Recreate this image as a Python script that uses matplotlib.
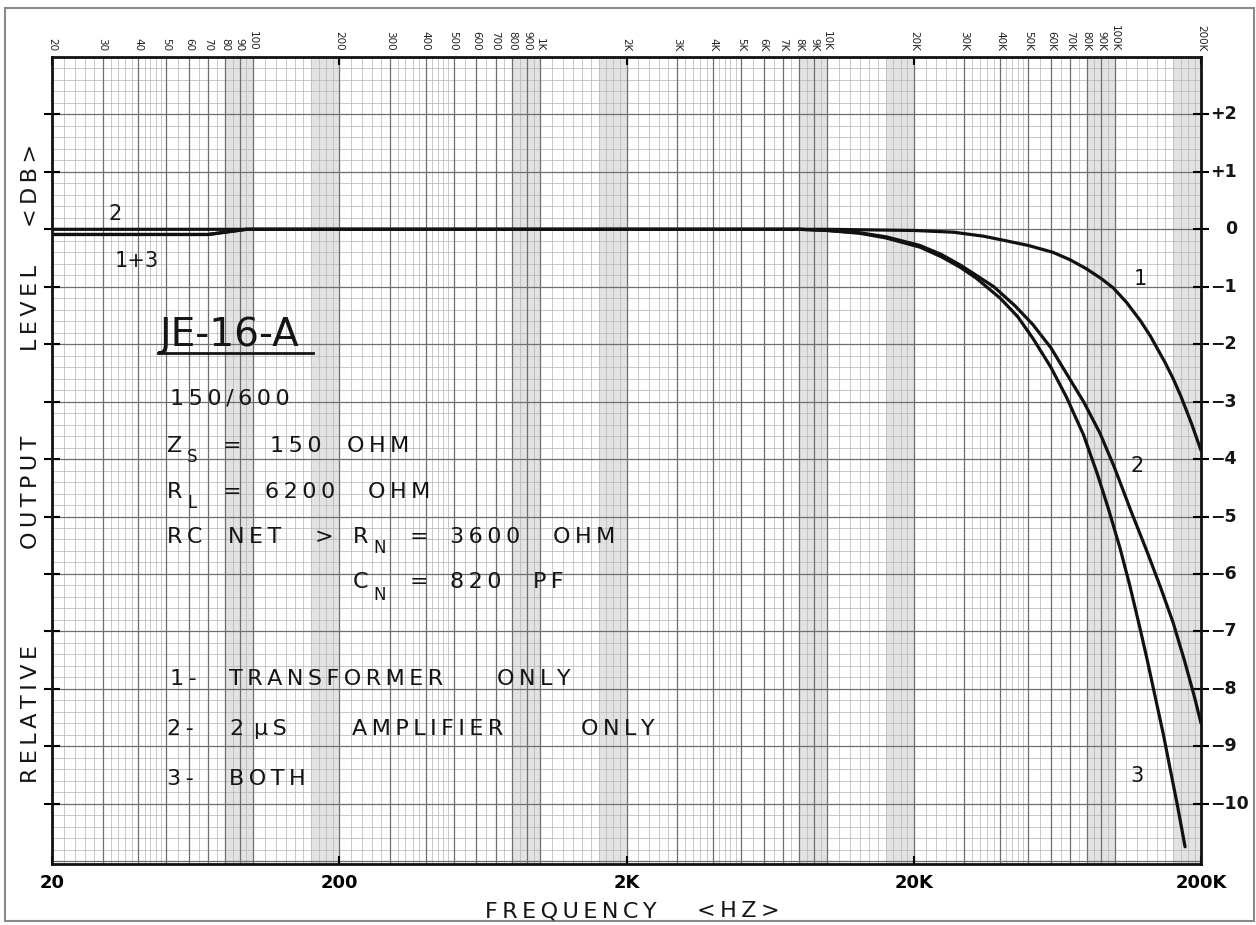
# frequency response chart, log paper style (JE-16-A transformer)
import numpy as np
import matplotlib.pyplot as plt
from matplotlib import transforms
from matplotlib.patches import Rectangle
from matplotlib.lines import Line2D
from matplotlib.ticker import NullLocator

# curve 1 - transformer only (Hz, dB)
freq_1 = [20, 70, 95, 1000, 10000, 20000, 27500, 35000, 41000, 50000, 61000,
          70000, 80000, 90000, 99000, 110000, 123000, 133000, 150000, 160000,
          170000, 185000, 200000]
db_1 = [-0.09, -0.09, 0.0, 0.0, 0.0, -0.02, -0.05, -0.12, -0.19, -0.28, -0.40,
        -0.53, -0.69, -0.86, -1.02, -1.27, -1.59, -1.85, -2.32, -2.60,
        -2.90, -3.37, -3.85]

# curve 2 - 2 uS amplifier only
freq_2 = [20, 8000, 10000, 13000, 16000, 21000, 25000, 29000, 33000, 38000,
          45000, 52000, 60000, 68000, 78000, 89000, 100000, 115000, 130000,
          145000, 160000, 175000, 190000, 200000]
db_2 = [0.0, 0.0, -0.02, -0.06, -0.13, -0.28, -0.44, -0.62, -0.80, -1.0,
        -1.33, -1.66, -2.06, -2.51, -3.0, -3.55, -4.15, -4.95, -5.62,
        -6.25, -6.85, -7.5, -8.15, -8.6]

# curve 3 - both
freq_3 = [20, 70, 95, 8000, 10000, 13000, 16000, 21000, 25000, 29000, 33000,
          40000, 46000, 52000, 60000, 68000, 78000, 87000, 95000, 104500,
          113000, 122700, 130000, 138000, 148000, 156000, 166000, 176000]
db_3 = [-0.09, -0.09, 0.0, 0.0, -0.02, -0.07, -0.15, -0.31, -0.48, -0.66, -0.85,
        -1.2, -1.52, -1.9, -2.4, -2.92, -3.58, -4.25, -4.85, -5.55,
        -6.2, -6.95, -7.5, -8.1, -8.8, -9.38, -10.06, -10.75]

top_ticks = [20, 30, 40, 50, 60, 70, 80, 90, 100, 200, 300, 400, 500, 600, 700,
             800, 900, 1000, 2000, 3000, 4000, 5000, 6000, 7000, 8000, 9000,
             10000, 20000, 30000, 40000, 50000, 60000, 70000, 80000, 90000,
             100000, 200000]
top_labels = ['20', '30', '40', '50', '60', '70', '80', '90', '100', '200', '300',
              '400', '500', '600', '700', '800', '900', '1K', '2K', '3K', '4K',
              '5K', '6K', '7K', '8K', '9K', '10K', '20K', '30K', '40K', '50K',
              '60K', '70K', '80K', '90K', '100K', '200K']
bottom_ticks = [20, 200, 2000, 20000, 200000]
bottom_labels = ['20', '200', '2K', '20K', '200K']
db_ticks = list(range(-10, 3))

W, H = 1256, 925
fig = plt.figure(figsize=(W / 100, H / 100), dpi=100)
ax = fig.add_axes([52 / W, 1 - 864 / H, (1201 - 52) / W, (864 - 57) / H])
ax.set_xscale('log')
ax.set_xlim(20, 200000)
ax.set_ylim(-11.05, 3.0)


def spaced(s):
    # plotter lettering is wide, open it up a bit
    return '\u2009'.join(s)


def put(x, y, s, size, space=True, **kw):
    # x, y in pixels from the top left corner
    if space:
        s = spaced(s)
    fig.text(x / W, 1 - y / H, s, fontsize=size, ha='left', va='baseline',
             color='#151515', **kw)


# grey bands of the log paper
for lo, hi in [(80, 100), (160, 200), (800, 1000), (1600, 2000), (8000, 10000),
               (16000, 20000), (80000, 100000), (160000, 200000)]:
    ax.axvspan(lo, hi, color='#e2e2e2', lw=0, zorder=0)

# vertical grid: heavy at each multiple, fine subdivisions in between
major_v, fine_v = [], []
for k in range(1, 6):
    base = 10 ** k
    for m in range(1, 10):
        step = 0.1 if m == 1 else (0.2 if m < 5 else 0.5)
        major_v.append(m * base)
        for s in np.arange(m + step, m + 1 - 1e-9, step):
            fine_v.append(s * base)
major_v = [v for v in major_v if 20 <= v <= 200000]
fine_v = [v for v in fine_v if 20 < v < 200000]
ax.vlines(fine_v, -12, 4, color='#b4b4b4', lw=0.5, zorder=1)
ax.vlines(major_v, -12, 4, color='#6e6e6e', lw=0.9, zorder=1.5)

# horizontal grid: every dB and every 0.2 dB
fine_h = [v for v in np.arange(-11, 3.01, 0.2) if abs(v - round(v)) > 1e-6]
ax.hlines(fine_h, 10, 300000, color='#b4b4b4', lw=0.5, zorder=1)
ax.hlines(range(-11, 4), 10, 300000, color='#6e6e6e', lw=0.9, zorder=1.5)

# the three response curves
for f, d in [(freq_1, db_1), (freq_2, db_2), (freq_3, db_3)]:
    ax.plot(f, d, color='#111111', lw=2.3, zorder=5, solid_capstyle='round',
            solid_joinstyle='round')

for sp in ax.spines.values():
    sp.set_linewidth(2)
    sp.set_color('#111111')

ax.xaxis.set_minor_locator(NullLocator())
ax.set_xticks(bottom_ticks)
ax.set_xticklabels(bottom_labels)
ax.tick_params(axis='x', which='both', direction='in', length=6, width=1.5,
               top=True, labelsize=13, pad=7)
for lbl in ax.get_xticklabels():
    lbl.set_fontweight('bold')
ax.yaxis.set_minor_locator(NullLocator())
ax.set_yticks(db_ticks)
ax.tick_params(axis='y', direction='inout', length=11, width=1.5,
               left=True, right=True, labelleft=False)

# right-hand dB labels
tr_right = transforms.blended_transform_factory(fig.transFigure, ax.transData)
for v in db_ticks:
    if v == 0:
        txt, x = '0', 1225
    elif v > 0:
        txt, x = '+%d' % v, 1210
    else:
        txt, x = '\u2212%d' % -v, 1210
    ax.text(x / W, v, txt, transform=tr_right, ha='left', va='center',
            fontsize=12.5, fontweight='bold', color='#151515')

# small rotated frequency labels along the top
tr_top = transforms.blended_transform_factory(ax.transData, fig.transFigure)
for f, lab in zip(top_ticks, top_labels):
    ax.text(f, 1 - 51 / H, lab, transform=tr_top, rotation=-90, ha='center',
            va='bottom', fontsize=7.5, color='#222222')

# axis titles
for word, yc in [('RELATIVE', 714), ('OUTPUT', 492), ('LEVEL', 308), ('<DB>', 185)]:
    fig.text(31 / W, 1 - yc / H, spaced(word), rotation=90, ha='center',
             va='center', fontsize=16, color='#151515')
put(485, 917, 'FREQUENCY', 16)
put(697, 917, '<HZ>', 16)

# title block
put(160, 346, 'JE-16-A', 28, space=False)
fig.add_artist(Line2D([158 / W, 313 / W], [1 - 353 / H] * 2, lw=2, color='#151515'))
put(170, 405, '150/600', 16)

notes = [
    ('Z', 167, 452), ('=', 223, 452), ('150', 270, 452), ('OHM', 347, 452),
    ('R', 167, 498), ('=', 223, 498), ('6200', 265, 498), ('OHM', 368, 498),
    ('RC', 167, 543), ('NET', 228, 543), ('>', 315, 543), ('R', 353, 543),
    ('=', 410, 543), ('3600', 450, 543), ('OHM', 553, 543),
    ('C', 353, 588), ('=', 410, 588), ('820', 450, 588), ('PF', 533, 588),
    ('1-', 170, 685), ('TRANSFORMER', 229, 685), ('ONLY', 497, 685),
    ('2-', 167, 735), ('2', 229, 735), ('µS', 254, 735), ('AMPLIFIER', 352, 735),
    ('ONLY', 581, 735),
    ('3-', 167, 785), ('BOTH', 229, 785),
]
for s, x, y in notes:
    put(x, y, s, 16)
for s, x, y in [('S', 187, 462), ('L', 187, 508), ('N', 373, 553), ('N', 373, 600)]:
    put(x, y, s, 12)

# curve labels
for s, x, y in [('2', 108, 220), ('1+3', 115, 267), ('1', 1134, 285),
                ('2', 1130, 472), ('3', 1130, 782)]:
    put(x, y, s, 15, space=False)

# scanned sheet border
fig.add_artist(Rectangle((5 / W, 1 - 921 / H), (1254 - 5) / W, (921 - 8) / H,
                         transform=fig.transFigure, fill=False, ec='#8a8a8a', lw=1.5))

fig.savefig('out.png', dpi=100, facecolor='white')
